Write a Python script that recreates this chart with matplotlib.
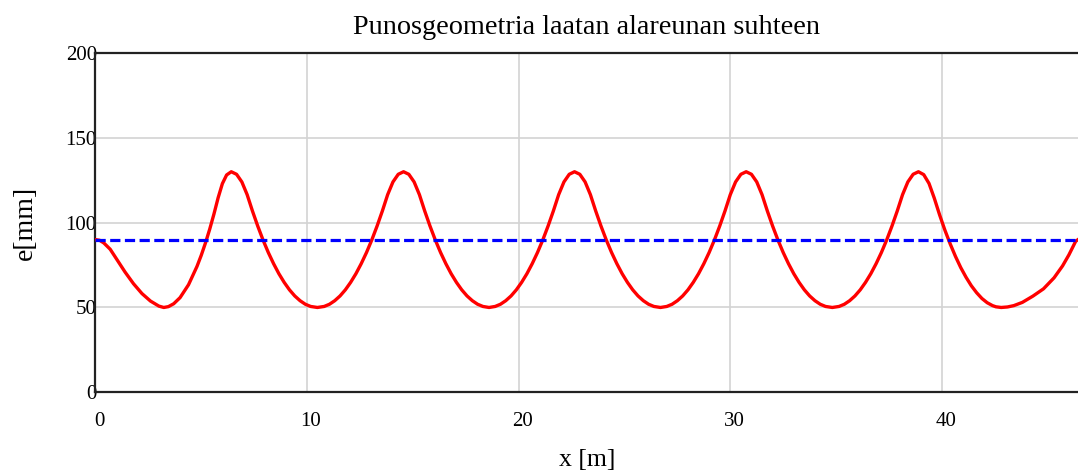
import matplotlib
matplotlib.use("Agg")
import matplotlib.pyplot as plt
import matplotlib.transforms as mtransforms

# tendon eccentricity, span by span (x in m, e in mm)
span1_x = [0, 0.2, 0.4, 0.7, 1.0, 1.4, 1.8, 2.2, 2.6, 3.0, 3.23,
           3.45, 3.7, 4.0, 4.4, 4.8, 5.0, 5.2, 5.4, 5.6, 5.8, 6.0, 6.2, 6.42]
span1_e = [90, 89.6, 88.0, 84.3, 78.6, 70.9, 64.0, 58.2, 53.8, 50.8, 50.0,
           50.5, 52.2, 55.8, 63.4, 74.2, 80.7, 88.0, 96.1, 105.0, 114.7, 123.0, 128.1, 130.0]

span2_x = [6.67, 6.92, 7.17, 7.42, 7.67, 7.92, 8.17, 8.42, 8.67, 8.92, 9.17, 9.42, 9.67, 9.92, 10.17, 10.49,
           10.81, 11.06, 11.31, 11.56, 11.81, 12.06, 12.31, 12.56, 12.81, 13.06, 13.31, 13.56, 13.81, 14.06, 14.31, 14.56]
span2_e = [128.5, 124.0, 116.5, 106.9, 98.0, 89.8, 82.4, 75.8, 69.9, 64.8, 60.4, 56.8, 54.0, 51.9, 50.6, 50.0,
           50.6, 51.9, 54.0, 56.8, 60.4, 64.8, 69.9, 75.8, 82.4, 89.8, 98.0, 106.9, 116.5, 124.0, 128.5, 130.0]

span3_x = [14.81, 15.06, 15.31, 15.56, 15.81, 16.06, 16.31, 16.56, 16.81, 17.06, 17.31, 17.56, 17.81, 18.06, 18.31, 18.6,
           18.89, 19.14, 19.39, 19.64, 19.89, 20.14, 20.39, 20.64, 20.89, 21.14, 21.39, 21.64, 21.89, 22.14, 22.39, 22.64]
span3_e = [128.5, 124.0, 116.5, 106.9, 98.0, 89.8, 82.4, 75.8, 69.9, 64.8, 60.4, 56.8, 54.0, 51.9, 50.6, 50.0,
           50.6, 51.9, 54.0, 56.8, 60.4, 64.8, 69.9, 75.8, 82.4, 89.8, 98.0, 106.9, 116.5, 124.0, 128.5, 130.0]

span4_x = [22.89, 23.14, 23.39, 23.64, 23.89, 24.14, 24.39, 24.64, 24.89, 25.14, 25.39, 25.64, 25.89, 26.14, 26.39, 26.7,
           27.0, 27.25, 27.5, 27.75, 28.0, 28.25, 28.5, 28.75, 29.0, 29.25, 29.5, 29.75, 30.0, 30.25, 30.5, 30.75]
span4_e = [128.5, 124.0, 116.5, 106.9, 98.0, 89.8, 82.4, 75.8, 69.9, 64.8, 60.4, 56.8, 54.0, 51.9, 50.6, 50.0,
           50.6, 51.9, 54.0, 56.8, 60.4, 64.8, 69.9, 75.8, 82.4, 89.8, 98.0, 106.9, 116.5, 124.0, 128.5, 130.0]

span5_x = [31.0, 31.25, 31.5, 31.75, 32.0, 32.25, 32.5, 32.75, 33.0, 33.25, 33.5, 33.75, 34.0, 34.25, 34.5, 34.82,
           35.14, 35.39, 35.64, 35.89, 36.14, 36.39, 36.64, 36.89, 37.14, 37.39, 37.64, 37.89, 38.14, 38.39, 38.64, 38.89]
span5_e = [128.5, 124.0, 116.5, 106.9, 98.0, 89.8, 82.4, 75.8, 69.9, 64.8, 60.4, 56.8, 54.0, 51.9, 50.6, 50.0,
           50.6, 51.9, 54.0, 56.8, 60.4, 64.8, 69.9, 75.8, 82.4, 89.8, 98.0, 106.9, 116.5, 124.0, 128.5, 130.0]

span6_x = [39.14, 39.39, 39.64, 39.89, 40.14, 40.39, 40.64, 40.89, 41.14, 41.39, 41.64, 41.89, 42.14, 42.39, 42.55, 42.8,
           43.1, 43.4, 43.8, 44.3, 44.8, 45.3, 45.7, 46.0, 46.2, 46.32, 46.43]
span6_e = [128.3, 123.1, 114.4, 104.6, 95.6, 87.5, 80.1, 73.5, 67.8, 62.8, 58.7, 55.3, 52.8, 51.1, 50.4, 50.0,
           50.3, 51.1, 53.0, 56.7, 61.0, 67.5, 74.5, 81.0, 86.0, 89.0, 90.0]

# centroid level (dashed line)
centroid_x = [0, 46.43]
centroid_e = [90, 90]

x_ticks = [0, 10, 20, 30, 40]
y_ticks = [0, 50, 100, 150, 200]

x_all = span1_x + span2_x + span3_x + span4_x + span5_x + span6_x
e_all = span1_e + span2_e + span3_e + span4_e + span5_e + span6_e

plt.rcParams['font.family'] = ['Liberation Serif', 'DejaVu Serif']

fig = plt.figure(figsize=(10.78, 4.73), dpi=100)
ax = fig.add_axes([0.0885, 0.1706, 0.9115, 0.7174])

ax.plot(x_all, e_all, color='#ff0000', lw=2.4, zorder=3,
        solid_joinstyle='round')
ax.plot(centroid_x, centroid_e, color='#0000ff', lw=2.3,
        dashes=(3.2, 1.4), zorder=4)

ax.set_xlim(0, 46.43)
ax.set_ylim(0, 200)
ax.set_xticks(x_ticks)
ax.set_yticks(y_ticks)
ax.grid(True, color='#d3d3d3', lw=1.2)
ax.set_axisbelow(True)

for s in ['left', 'bottom', 'top']:
    ax.spines[s].set_linewidth(1.6)
    ax.spines[s].set_color('#222222')
ax.spines['right'].set_visible(False)

ax.tick_params(axis='x', length=0, pad=14, labelsize=15)
ax.tick_params(axis='y', length=0, pad=-1, labelsize=15)

# x tick labels sit a few pixels right of the tick
offset = mtransforms.ScaledTranslation(4 / 100, 0, fig.dpi_scale_trans)
for lab in ax.get_xticklabels():
    lab.set_transform(lab.get_transform() + offset)

ax.set_title('Punosgeometria laatan alareunan suhteen', fontsize=20.3, pad=14)
ax.set_xlabel('x [m]', fontsize=18.5, labelpad=13)
ax.set_ylabel('e[mm]', fontsize=20, labelpad=20)

fig.savefig('out.png', dpi=100)
